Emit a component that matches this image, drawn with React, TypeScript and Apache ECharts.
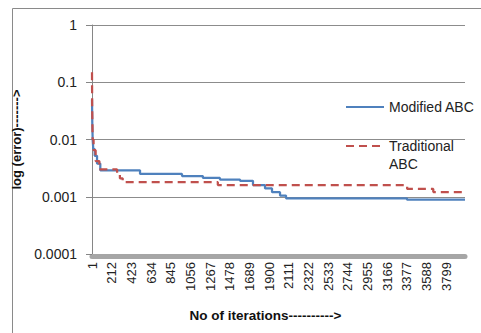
import React, { useEffect, useRef } from 'react';
import * as echarts from 'echarts';

// X axis: iterations, labels every 211 starting at 1
const xStart = 1;
const xStep = 211;
const xEnd = 4000;

// Y axis decade labels (log scale)
const yTickLabels = ['0.0001', '0.001', '0.01', '0.1', '1'];

// Modified ABC (solid blue) – step breakpoints
const modifiedIter = [1, 4, 8, 15, 30, 55, 90, 516, 966, 1190, 1373, 1588, 1727, 1856, 1931, 2017, 2081, 3378, 4000];
const modifiedErr = [0.05, 0.02, 0.01, 0.0068, 0.0052, 0.0038, 0.0029, 0.0025, 0.0023, 0.00213, 0.002, 0.0019, 0.0016, 0.0014, 0.0012, 0.00105, 0.00094, 0.00089, 0.00089];

// Traditional ABC (dashed red)
const traditionalIter = [1, 3, 8, 18, 40, 80, 270, 300, 330, 1350, 3380, 3660, 4000];
const traditionalErr = [0.15, 0.035, 0.01, 0.0065, 0.0042, 0.003, 0.0026, 0.0021, 0.0018, 0.0016, 0.00137, 0.00121, 0.00121];

const seriesNames = ['Modified ABC', 'Traditional ABC'];

export default function App() {
  const ref = useRef<HTMLDivElement>(null);
  useEffect(() => {
    document.body.style.margin = '0';
    const chart = echarts.init(ref.current!, null, { renderer: 'svg' });
    const font = 'Liberation Sans, Arial, sans-serif';
    chart.setOption({
      animation: false,
      backgroundColor: '#ffffff',
      textStyle: { fontFamily: font },
      grid: { left: 92, right: 16, top: 25, bottom: 79, containLabel: false },
      xAxis: {
        type: 'value',
        min: xStart,
        max: xEnd,
        interval: xStep,
        offset: 2,
        name: 'No of iterations---------->',
        nameLocation: 'middle',
        nameGap: 52,
        nameTextStyle: { fontWeight: 'bold', fontSize: 13.5, color: '#111', fontFamily: font, padding: [0, 26, 0, 0] },
        axisLine: { show: true, onZero: false, lineStyle: { color: '#a6a6a6', width: 5 } },
        axisTick: { show: false },
        splitLine: { show: false },
        axisLabel: {
          rotate: 90,
          fontSize: 13,
          color: '#222',
          margin: 6,
          showMinLabel: true,
          showMaxLabel: false,
          formatter: (v: number) => String(Math.round(v)),
        },
      },
      yAxis: {
        type: 'log',
        logBase: 10,
        min: 0.0001,
        max: 1,
        name: 'log (error)------->',
        nameLocation: 'middle',
        nameGap: 60,
        nameRotate: 90,
        nameTextStyle: { fontWeight: 'bold', fontSize: 13, color: '#111', fontFamily: font },
        axisLine: { show: true, lineStyle: { color: '#868686', width: 1 } },
        axisTick: { show: true, length: 6, lineStyle: { color: '#868686' } },
        splitLine: { show: true, lineStyle: { color: '#8c8c8c', width: 1 } },
        axisLabel: {
          fontSize: 14,
          margin: 15,
          color: '#222',
          formatter: (v: number) => yTickLabels[Math.round(Math.log10(v)) + 4] ?? '',
        },
      },
      legend: [
        {
          data: [seriesNames[0]],
          left: 345,
          top: 100,
          padding: 0,
          itemWidth: 38,
          itemHeight: 14,
          selectedMode: false,
          itemStyle: { opacity: 0 },
          textStyle: { fontSize: 14, color: '#222', fontFamily: font },
        },
        {
          data: [seriesNames[1]],
          left: 345,
          top: 119,
          padding: 0,
          itemWidth: 38,
          itemHeight: 14,
          selectedMode: false,
          itemStyle: { opacity: 0 },
          formatter: () => '\nTraditional\nABC',
          textStyle: { fontSize: 14, lineHeight: 18, color: '#222', fontFamily: font },
        },
      ],
      series: [
        {
          name: seriesNames[0],
          type: 'line',
          step: 'end',
          symbol: 'none',
          data: modifiedIter.map((x, i) => [x, modifiedErr[i]]),
          lineStyle: { color: '#4F81BD', width: 2.25 },
          itemStyle: { color: '#4F81BD' },
        },
        {
          name: seriesNames[1],
          type: 'line',
          step: 'end',
          symbol: 'none',
          data: traditionalIter.map((x, i) => [x, traditionalErr[i]]),
          lineStyle: { color: '#C0504D', width: 2.25, type: [8, 5] },
          itemStyle: { color: '#C0504D' },
        },
      ],
      graphic: [
        {
          type: 'rect',
          silent: true,
          shape: { x: 12.5, y: 8.5, width: 600, height: 500 },
          style: { fill: 'none', stroke: '#8a8a8a', lineWidth: 1 },
        },
      ],
    });
    return () => chart.dispose();
  }, []);
  return <div ref={ref} style={{ width: 481, height: 333 }} />;
}
